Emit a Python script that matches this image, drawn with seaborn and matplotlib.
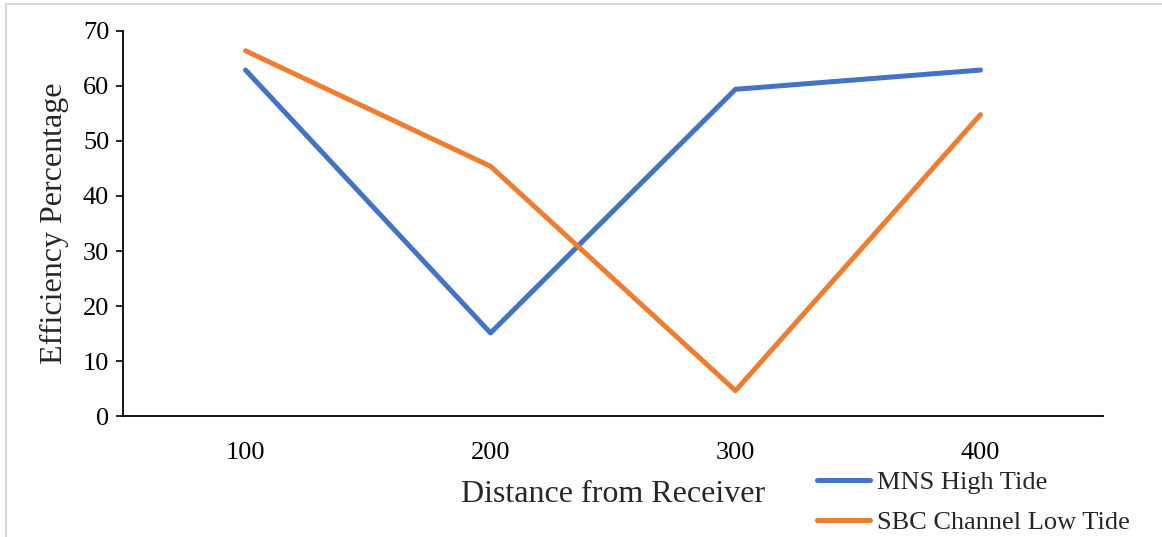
import matplotlib
matplotlib.use("Agg")
import matplotlib.pyplot as plt
from matplotlib.lines import Line2D
import seaborn as sns
import pandas as pd

distances = ["100", "200", "300", "400"]
mns_high_tide = [62.9, 15.1, 59.4, 62.9]
sbc_low_tide = [66.4, 45.4, 4.6, 54.8]
series_names = ["MNS High Tide", "SBC Channel Low Tide"]
y_ticks = [0, 10, 20, 30, 40, 50, 60, 70]

df = pd.DataFrame({
    "Distance": distances * 2,
    "Efficiency": mns_high_tide + sbc_low_tide,
    "Series": [series_names[0]] * 4 + [series_names[1]] * 4,
})

sns.set_style("white")
plt.rcParams["font.family"] = ["Liberation Serif", "DejaVu Serif"]

fig = plt.figure(figsize=(11.62, 5.37), dpi=100)
ax = fig.add_axes([0.1059, 0.2253, 0.8433, 0.7170])

palette = {series_names[0]: "#4472C4", series_names[1]: "#ED7D31"}
sns.lineplot(data=df, x="Distance", y="Efficiency", hue="Series",
             palette=palette, linewidth=3.6, sort=False, ax=ax,
             solid_capstyle="round", legend=False)

ax.set_xlim(-0.5, 3.5)
ax.set_ylim(0, 70)
ax.set_yticks(y_ticks)
ax.tick_params(axis="y", labelsize=19, length=5, width=1.2,
               direction="out", left=True, pad=5, colors="black")
ax.tick_params(axis="x", labelsize=19, length=0, pad=19, colors="black")

for side in ["top", "right"]:
    ax.spines[side].set_visible(False)
for side in ["left", "bottom"]:
    ax.spines[side].set_visible(True)
    ax.spines[side].set_color("black")
    ax.spines[side].set_linewidth(1.3)

ax.set_xlabel("Distance from Receiver", fontsize=23, labelpad=11)
ax.set_ylabel("Efficiency Percentage", fontsize=23, labelpad=10)

handles = [Line2D([0], [0], color=palette[n], lw=3.6, solid_capstyle="round")
           for n in series_names]
fig.legend(handles, series_names, loc="upper left",
           bbox_to_anchor=(0.7035, 0.123), frameon=False, fontsize=19,
           handlelength=2.0, handletextpad=0.25, labelspacing=0.62,
           borderaxespad=0, borderpad=0)

# outer frame lines (left and top)
fig.add_artist(Line2D([5.5 / 1162, 5.5 / 1162], [0, 1 - 4 / 537],
                      transform=fig.transFigure, color="#D9D9D9", lw=1.5))
fig.add_artist(Line2D([5.5 / 1162, 1], [1 - 4 / 537, 1 - 4 / 537],
                      transform=fig.transFigure, color="#D9D9D9", lw=1.5))

fig.savefig("out.png", dpi=100)
